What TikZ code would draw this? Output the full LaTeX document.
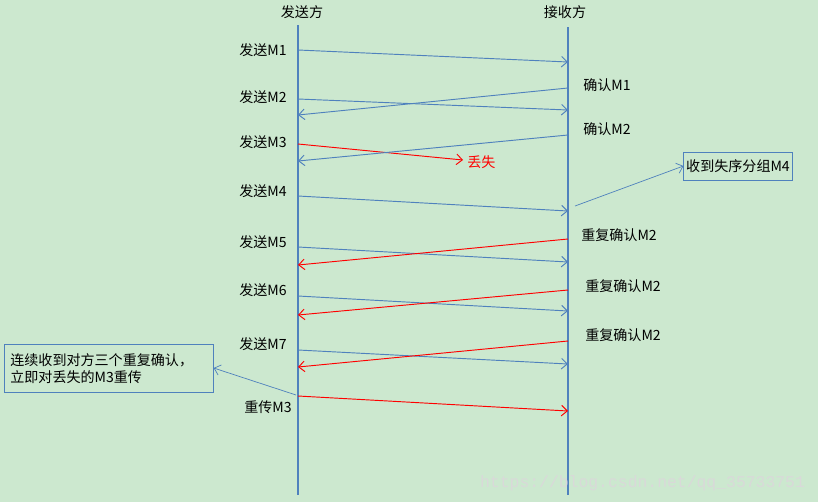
\documentclass[tikz,border=0pt]{standalone}
\usepackage{fontspec}
\setmainfont{Noto Sans CJK SC}
\setmonofont{Liberation Mono}
\usetikzlibrary{arrows.meta}
\definecolor{bgcol}{HTML}{CCE8CF}
\definecolor{linecol}{HTML}{4F81BD}
\definecolor{lostcol}{HTML}{FF0000}
\begin{document}
\begin{tikzpicture}[
    x=0.03cm, y=-0.03cm,
    font=\fontsize{12}{15}\selectfont,
    lifeline/.style={draw=linecol, line width=1.4pt},
    msg/.style={draw=linecol, line width=0.8pt, -{Straight Barb[length=5pt,width=9pt]}},
    bad/.style={draw=lostcol, line width=0.8pt, -{Straight Barb[length=5pt,width=9pt]}},
    note/.style={draw=linecol, line width=0.8pt, fill=bgcol, inner sep=5pt, align=left},
    lbl/.style={inner sep=1pt}
]
    % Background
    \fill[bgcol] (0,0) rectangle (818,502);
    \useasboundingbox (0,0) rectangle (818,502);

    % Lifelines
    \node (snd) at (302,12) {发送方};
    \node (rcv) at (565,12) {接收方};
    \coordinate (snd top) at (298,25);
    \coordinate (snd bot) at (298,495);
    \coordinate (rcv top) at (568,27);
    \coordinate (rcv bot) at (568,495);
    \draw[lifeline] (snd top) -- (snd bot);
    \draw[lifeline] (rcv top) -- (rcv bot);

    % Sender side labels
    \node[lbl] (s1) at (263,50) {发送M1};
    \node[lbl] (s2) at (263,97) {发送M2};
    \node[lbl] (s3) at (263,142) {发送M3};
    \node[lbl] (s4) at (263,191) {发送M4};
    \node[lbl] (s5) at (263,242) {发送M5};
    \node[lbl] (s6) at (263,290) {发送M6};
    \node[lbl] (s7) at (263,344) {发送M7};
    \node[lbl] (s8) at (268,407) {重传M3};

    % Receiver side labels
    \node[lbl] (r1) at (607,85) {确认M1};
    \node[lbl] (r2) at (607,129) {确认M2};
    \node[lbl] (r3) at (619,235) {重复确认M2};
    \node[lbl] (r4) at (623,286) {重复确认M2};
    \node[lbl] (r5) at (623,335) {重复确认M2};

    % Message end points
    \coordinate (a1) at (298,50);  \coordinate (b1) at (568,62);
    \coordinate (a2) at (298,99);  \coordinate (b2) at (568,110);
    \coordinate (b3) at (568,88);  \coordinate (a3) at (298,115);
    \coordinate (a4) at (298,144); \coordinate (b4) at (463,160);
    \coordinate (b5) at (568,135); \coordinate (a5) at (298,161);
    \coordinate (a6) at (298,196); \coordinate (b6) at (568,211);
    \coordinate (a7) at (298,247); \coordinate (b7) at (568,262);
    \coordinate (b8) at (568,239); \coordinate (a8) at (298,265);
    \coordinate (a9) at (298,296); \coordinate (b9) at (568,311);
    \coordinate (b10) at (568,290); \coordinate (a10) at (298,315);
    \coordinate (a11) at (298,350); \coordinate (b11) at (568,364);
    \coordinate (b12) at (568,341); \coordinate (a12) at (298,367);
    \coordinate (a13) at (298,396); \coordinate (b13) at (568,411);

    % Data and acknowledgements
    \draw[msg] (a1) -- (b1);
    \draw[msg] (a2) -- (b2);
    \draw[msg] (b3) -- (a3);
    \draw[bad] (a4) -- (b4);
    \node[lbl, text=lostcol, anchor=west] (lost) at (466,162) {丢失};
    \draw[msg] (b5) -- (a5);
    \draw[msg] (a6) -- (b6);
    \draw[msg] (a7) -- (b7);
    \draw[bad] (b8) -- (a8);
    \draw[msg] (a9) -- (b9);
    \draw[bad] (b10) -- (a10);
    \draw[msg] (a11) -- (b11);
    \draw[bad] (b12) -- (a12);
    \draw[bad] (a13) -- (b13);

    % Notes
    \node[note, minimum width=100*0.03cm, minimum height=28*0.03cm, inner sep=2pt] (outoforder) at (738,166) {收到失序分组M4};
    \coordinate (o1) at (575,206);
    \draw[msg, line width=0.6pt] (o1) -- (outoforder.west);
    \node[note, text width=197*0.03cm, minimum height=48*0.03cm, anchor=north west, inner sep=5pt, inner ysep=3pt] (resend) at (4,344)
        {连续收到对方三个重复确认，\\立即对丢失的M3重传};
    \coordinate (o2) at (296,395);
    \draw[msg, line width=0.6pt] (o2) -- (resend.east |- 0,368);

    % Watermark
    \node[text=black!15, font=\ttfamily\fontsize{14}{16}\selectfont, anchor=west] (mark) at (476,483) {https://blog.csdn.net/qq\_35733751};
\end{tikzpicture}
\end{document}
